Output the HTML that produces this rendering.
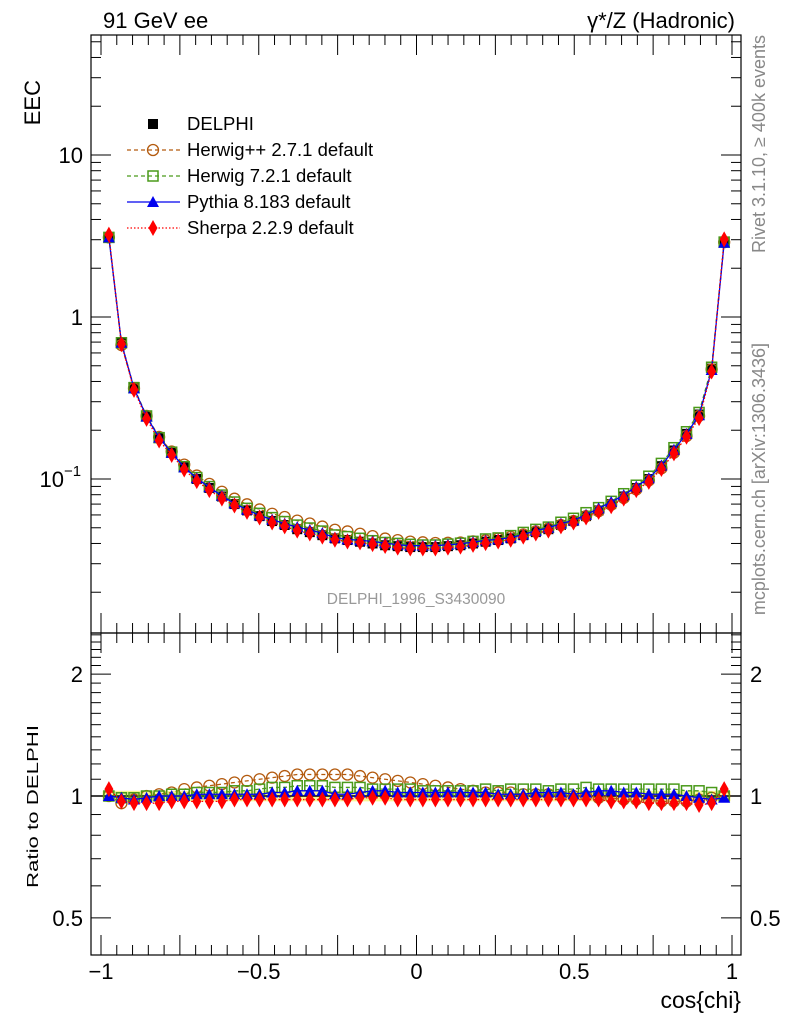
<!DOCTYPE html>
<html><head><meta charset="utf-8"><style>
body{margin:0;background:#fff}
svg text{font-family:"Liberation Sans",sans-serif}
</style></head><body>
<svg id="c" width="786" height="1024" xmlns="http://www.w3.org/2000/svg"></svg>
<script>
const xCenters=[];for(let i=0;i<50;i++)xCenters.push(-0.975+0.0398*i);
const eecData=[3.1,0.70,0.37,0.245,0.18,0.145,0.118,0.100,0.088,0.078,0.070,0.064,0.059,0.055,0.052,0.049,0.047,0.045,0.043,0.042,0.041,0.040,0.039,0.0385,0.038,0.038,0.038,0.0385,0.039,0.040,0.041,0.042,0.043,0.045,0.047,0.049,0.052,0.055,0.059,0.064,0.070,0.078,0.088,0.100,0.120,0.150,0.190,0.250,0.480,2.9];
const ratioHpp=[1.0,0.96,0.98,1.0,1.01,1.02,1.04,1.05,1.06,1.07,1.08,1.09,1.10,1.11,1.12,1.13,1.13,1.13,1.13,1.13,1.12,1.11,1.10,1.09,1.08,1.07,1.06,1.05,1.04,1.03,1.02,1.02,1.02,1.01,1.01,1.01,1.0,1.0,1.0,0.99,0.99,0.98,0.98,0.98,0.97,0.97,0.97,0.98,0.99,1.0];
const ratioH7=[1.0,0.99,0.99,1.0,1.0,1.01,1.01,1.02,1.02,1.02,1.03,1.03,1.04,1.05,1.05,1.06,1.06,1.06,1.05,1.05,1.05,1.04,1.04,1.04,1.04,1.03,1.03,1.03,1.03,1.03,1.04,1.03,1.04,1.04,1.04,1.03,1.04,1.04,1.05,1.04,1.04,1.04,1.04,1.04,1.04,1.04,1.03,1.03,1.02,1.0];
const ratioPy=[1.0,0.99,0.98,0.99,1.0,1.0,1.0,1.01,1.01,1.01,1.01,1.01,1.01,1.02,1.02,1.03,1.03,1.03,1.01,1.01,1.02,1.03,1.03,1.02,1.02,1.02,1.02,1.02,1.02,1.02,1.02,1.01,1.01,1.01,1.02,1.02,1.02,1.01,1.02,1.03,1.03,1.02,1.02,1.01,1.01,1.01,1.0,0.99,0.98,0.99];
const ratioSh=[1.04,0.97,0.96,0.96,0.96,0.97,0.97,0.97,0.97,0.97,0.98,0.98,0.98,0.98,0.98,0.98,0.98,0.98,0.98,0.98,0.99,0.99,0.99,0.98,0.98,0.98,0.98,0.98,0.98,0.98,0.98,0.98,0.98,0.98,0.98,0.98,0.98,0.98,0.98,0.98,0.97,0.97,0.97,0.96,0.96,0.96,0.96,0.95,0.96,1.04];
const bandErr=0.03;
const xTicks=[-1,-0.5,0,0.5,1];const xTickLabels=["\u22121","\u22120.5","0","0.5","1"];
const ratioTicks=[0.5,1,2];
const svg=document.getElementById('c');const NS="http://www.w3.org/2000/svg";
function mk(t,a,p){const e=document.createElementNS(NS,t);for(const k in a)e.setAttribute(k,a[k]);(p||svg).appendChild(e);return e;}
const L=91,R=741,T=35,M=633,B=955;
const X=v=>416.5+v*315.5;
const Y=v=>317-Math.log10(v)*162;
const YR=v=>796-Math.log10(v)*405;
const band=mk('g',{});
xCenters.forEach(x=>{mk('rect',{x:X(x-0.02),y:YR(1+bandErr),width:X(0.04)-X(0),height:YR(1-bandErr)-YR(1+bandErr),fill:'#f5f57a',opacity:0.8},band);});
mk('line',{x1:L,x2:R,y1:YR(1),y2:YR(1),stroke:'#000','stroke-width':1.5});
const f1=mk('rect',{x:L,y:T,width:R-L,height:M-T,fill:'none',stroke:'#000','stroke-width':1.2});
const f2=mk('rect',{x:L,y:M,width:R-L,height:B-M,fill:'none',stroke:'#000','stroke-width':1.2});
for(let d=-2;d<=1;d++)for(let m=1;m<10;m++){const v=m*Math.pow(10,d);const y=Y(v);if(y<T||y>M)continue;const len=m==1?20:10;
mk('line',{x1:L,x2:L+len,y1:y,y2:y,stroke:'#000'});mk('line',{x1:R,x2:R-len,y1:y,y2:y,stroke:'#000'});}
for(let m=4;m<=25;m++){const v=m/10;const y=YR(v);if(y<M||y>B)continue;const len=(m==5||m==10||m==20)?20:10;
mk('line',{x1:L,x2:L+len,y1:y,y2:y,stroke:'#000'});mk('line',{x1:R,x2:R-len,y1:y,y2:y,stroke:'#000'});}
for(let i=-20;i<=20;i++){const v=i/20;const x=X(v);const len=i%5==0?20:10;
mk('line',{x1:x,x2:x,y1:M,y2:M-len,stroke:'#000'});mk('line',{x1:x,x2:x,y1:T,y2:T+len,stroke:'#000'});
mk('line',{x1:x,x2:x,y1:B,y2:B-len,stroke:'#000'});mk('line',{x1:x,x2:x,y1:M,y2:M+len,stroke:'#000'});}
function txt(s,x,y,sz,anc,fill,name){const e=mk('text',{x:x,y:y,'font-size':sz,'text-anchor':anc||'start',fill:fill||'#000'});e.textContent=s;return e;}
xTicks.forEach((v,i)=>txt(xTickLabels[i],X(v),979,22,'middle','#000','x-tick-label'));
txt("10",83,163,22,'end','#000','y-tick-label');txt("1",83,325,22,'end','#000','y-tick-label');
txt("10",64,487,22,'end','#000','y-tick-label');const sup=mk('text',{x:64,y:476,'font-size':15});sup.textContent="\u22121";
ratioTicks.forEach(v=>{txt(String(v),83,YR(v)+8,22,'end','#000','ratio-tick-label');txt(String(v),750,YR(v)+8,22,'start','#000','ratio-tick-label-right');});
txt("91 GeV ee",103,28,22,'start','#000','plot-title-left');
txt("\u03b3*/Z (Hadronic)",735,28,22,'end','#000','plot-title-right');
txt("EEC",40,80,22,'end','#000','y-axis-title').setAttribute('transform','rotate(-90 40 80)');
const ra=txt("Ratio to DELPHI",38,888,16,'start','#000','ratio-axis-title');ra.setAttribute('transform','rotate(-90 38 888)');ra.setAttribute('textLength','163');ra.setAttribute('lengthAdjust','spacingAndGlyphs');
txt("cos{chi}",741,1008,23,'end','#000','x-axis-title');
txt("DELPHI_1996_S3430090",416,604,15.5,'middle','#999','analysis-id');
const r1=txt("Rivet 3.1.10, \u2265 400k events",765,35,18,'end','#888','rivet-version');r1.setAttribute('transform','rotate(-90 765 35)');
const r2=txt("mcplots.cern.ch [arXiv:1306.3436]",765,343,18,'end','#888','mcplots-credit');r2.setAttribute('transform','rotate(-90 765 343)');
function marker(type,x,y,g){
 if(type=='sq')mk('rect',{x:x-5,y:y-5,width:10,height:10,fill:'#000'},g);
 else if(type=='osq')mk('rect',{x:x-5,y:y-5,width:10,height:10,fill:'none',stroke:'#4a9a1a','stroke-width':1.5},g);
 else if(type=='oc')mk('circle',{cx:x,cy:y,r:5.5,fill:'none',stroke:'#b35a0e','stroke-width':1.3},g);
 else if(type=='tri')mk('polygon',{points:`${x},${y-6} ${x-6},${y+5} ${x+6},${y+5}`,fill:'#0000ee'},g);
 else if(type=='dia')mk('polygon',{points:`${x},${y-8} ${x-4.5},${y} ${x},${y+8} ${x+4.5},${y}`,fill:'#ff0000'},g);
}
const series=[
 {n:'herwigpp',m:'oc',c:'#b35a0e',d:'4,3',r:ratioHpp},
 {n:'herwig7',m:'osq',c:'#4a9a1a',d:'4,3',r:ratioH7},
 {n:'pythia8',m:'tri',c:'#0000ee',d:'',r:ratioPy},
 {n:'sherpa',m:'dia',c:'#ff0000',d:'1.5,2',r:ratioSh}];
const dg=mk('g',{});
xCenters.forEach((x,i)=>marker('sq',X(x),Y(eecData[i]),dg));
series.forEach(s=>{
 const g=mk('g',{});
 mk('polyline',{points:xCenters.map((x,i)=>X(x)+','+Y(eecData[i]*s.r[i])).join(' '),fill:'none',stroke:s.c,'stroke-width':1.3,'stroke-dasharray':s.d},g);
 xCenters.forEach((x,i)=>marker(s.m,X(x),Y(eecData[i]*s.r[i]),g));
 const gr=mk('g',{});
 mk('polyline',{points:xCenters.map((x,i)=>X(x)+','+YR(s.r[i])).join(' '),fill:'none',stroke:s.c,'stroke-width':1.3,'stroke-dasharray':s.d},gr);
 xCenters.forEach((x,i)=>marker(s.m,X(x),YR(s.r[i]),gr));
});
const lg=mk('g',{});
const leg=[['sq','DELPHI',null,''],['oc','Herwig++ 2.7.1 default','#b35a0e','4,3'],['osq','Herwig 7.2.1 default','#4a9a1a','4,3'],['tri','Pythia 8.183 default','#0000ee',''],['dia','Sherpa 2.2.9 default','#ff0000','1.5,2']];
leg.forEach((e,i)=>{const y=124+26*i;const g=mk('g',{},lg);
 if(e[2])mk('line',{x1:127,x2:180,y1:y,y2:y,stroke:e[2],'stroke-width':1.3,'stroke-dasharray':e[3]},g);
 marker(e[0],153,y,g);const t=mk('text',{x:187,y:y+6,'font-size':18.5},g);t.textContent=e[1];});
</script>
</body></html>
